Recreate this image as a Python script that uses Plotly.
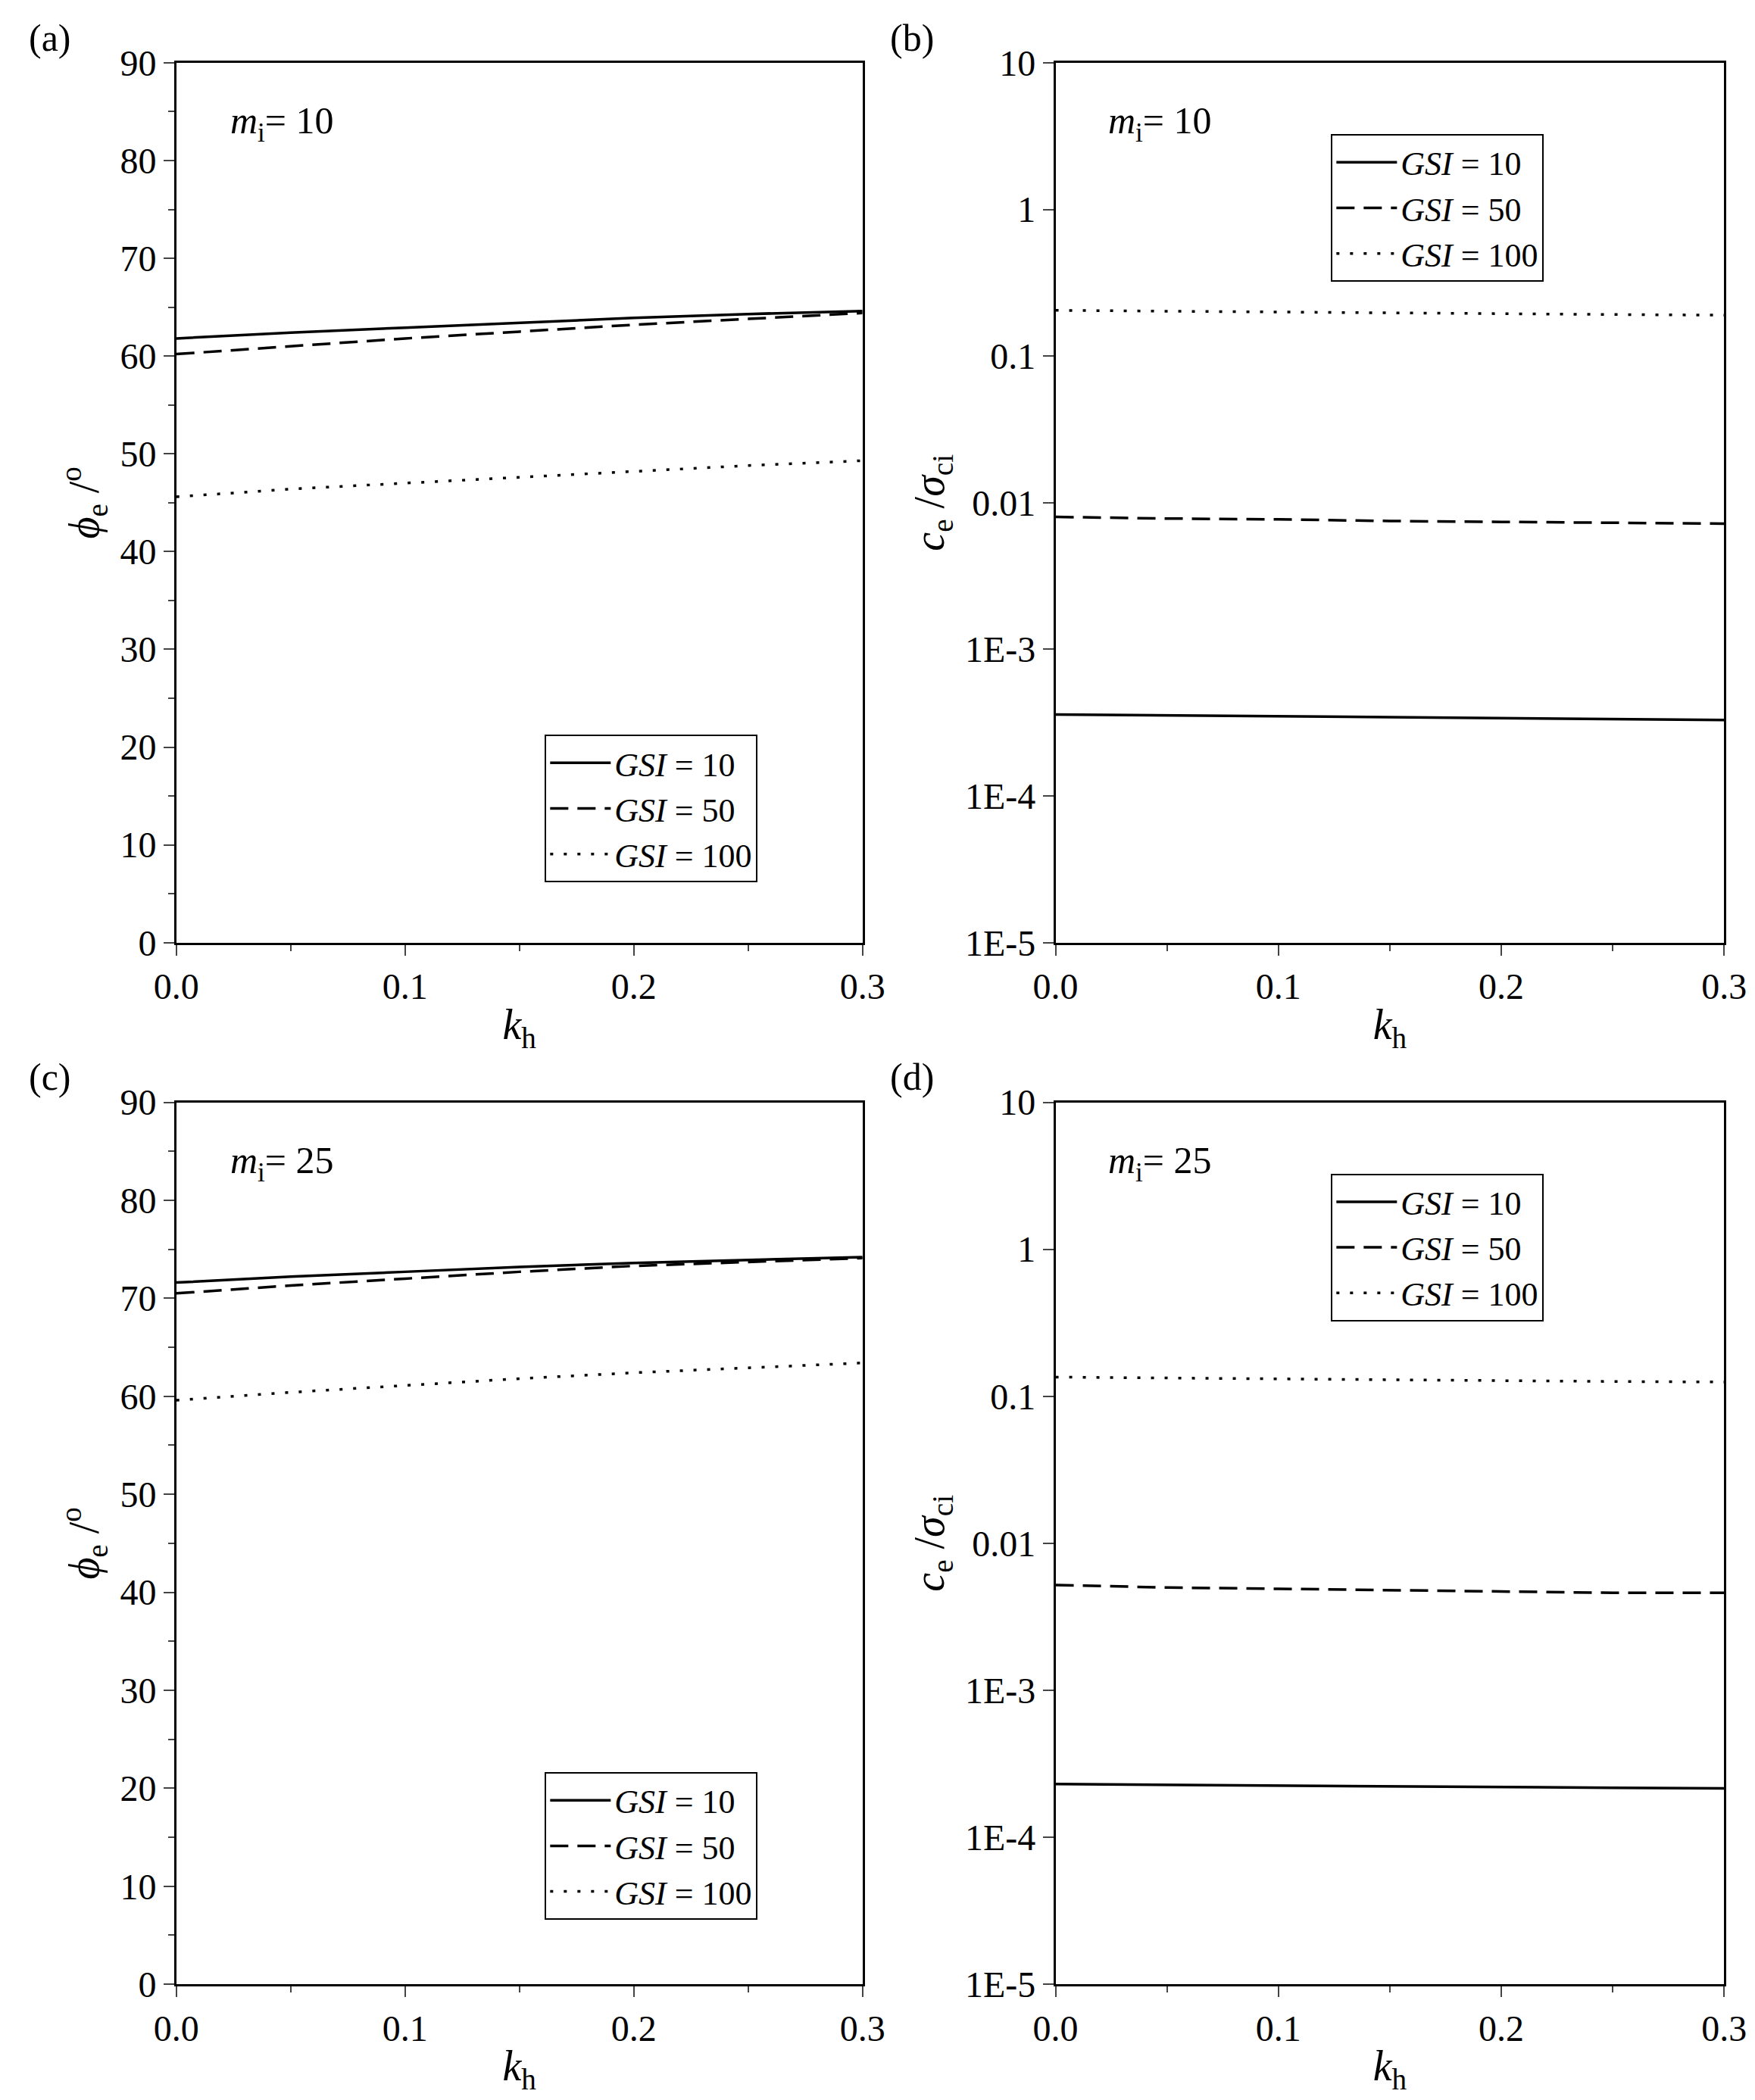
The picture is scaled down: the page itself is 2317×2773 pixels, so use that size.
import plotly.graph_objects as go

kh = [0.0, 0.05, 0.10, 0.15, 0.20, 0.25, 0.30]
gsi_labels = ["<i>GSI</i> = 10", "<i>GSI</i> = 50", "<i>GSI</i> = 100"]
dashes = ["solid", "24px,12px", "4px,14px"]

phi_m10 = [[61.8, 62.4, 62.9, 63.4, 63.9, 64.3, 64.6],
           [60.2, 61.0, 61.8, 62.5, 63.2, 63.8, 64.4],
           [45.6, 46.4, 47.0, 47.6, 48.2, 48.8, 49.3]]
c_m10 = [[3.6e-4, 3.55e-4, 3.5e-4, 3.45e-4, 3.4e-4, 3.35e-4, 3.3e-4],
         [0.0080, 0.0078, 0.0077, 0.0075, 0.0074, 0.0073, 0.0072],
         [0.205, 0.202, 0.199, 0.197, 0.195, 0.192, 0.190]]
phi_m25 = [[71.6, 72.2, 72.7, 73.2, 73.6, 73.9, 74.2],
           [70.5, 71.3, 72.0, 72.7, 73.3, 73.7, 74.1],
           [59.6, 60.4, 61.1, 61.8, 62.4, 62.9, 63.4]]
c_m25 = [[2.3e-4, 2.27e-4, 2.24e-4, 2.21e-4, 2.19e-4, 2.17e-4, 2.15e-4],
         [0.0052, 0.0050, 0.0049, 0.0048, 0.0047, 0.0046, 0.0046],
         [0.135, 0.133, 0.131, 0.129, 0.128, 0.126, 0.125]]

log_vals = [1e-5, 1e-4, 1e-3, 0.01, 0.1, 1, 10]
log_text = ["1E-5", "1E-4", "1E-3", "0.01", "0.1", "1", "10"]

F = "Liberation Serif"
fig = go.Figure()

panels = [
    (phi_m10, "x", "y", "legend"),
    (c_m10, "x2", "y2", "legend2"),
    (phi_m25, "x3", "y3", "legend3"),
    (c_m25, "x4", "y4", "legend4"),
]
for data, xa, ya, lg in panels:
    for i in range(3):
        fig.add_trace(go.Scatter(x=kh, y=data[i], mode="lines", name=gsi_labels[i],
                                 xaxis=xa, yaxis=ya, legend=lg,
                                 line=dict(color="black", width=3.5, dash=dashes[i])))

xdoms = [[0.097, 0.488], [0.598, 0.979]]
ydoms = [[0.554, 0.973], [0.058, 0.478]]
TF = dict(size=48, family=F, color="black")

def xax(dom, anchor):
    return dict(domain=dom, anchor=anchor, range=[0, 0.3], tickvals=[0, 0.1, 0.2, 0.3],
                ticktext=["0.0", "0.1", "0.2", "0.3"], ticks="outside", ticklen=14, tickwidth=2,
                minor=dict(ticks="outside", ticklen=8, dtick=0.05, tickwidth=2),
                showline=True, linewidth=2.5, linecolor="black", mirror=True, showgrid=False,
                zeroline=False, tickfont=TF, automargin=False,
                title=dict(text="<i>k</i><sub>h</sub>", font=dict(size=56, family=F, color="black"), standoff=5))

def yphi(dom, anchor):
    return dict(domain=dom, anchor=anchor, range=[0, 90], dtick=10, ticks="outside", ticklen=14, tickwidth=2,
                minor=dict(ticks="outside", ticklen=8, dtick=5, tickwidth=2),
                showline=True, linewidth=2.5, linecolor="black", mirror=True, showgrid=False, zeroline=False,
                tickfont=TF, automargin=False,
                title=dict(text="<i>ϕ</i><sub>e</sub> /<sup>o</sup>", font=dict(size=56, family=F, color="black"), standoff=10))

def ylog(dom, anchor):
    return dict(domain=dom, anchor=anchor, type="log", range=[-5, 1], tickvals=log_vals, ticktext=log_text,
                ticks="outside", ticklen=14, tickwidth=2,
                showline=True, linewidth=2.5, linecolor="black", mirror=True, showgrid=False, zeroline=False,
                tickfont=TF, automargin=False,
                title=dict(text="<i>c</i><sub>e</sub> /<i>σ</i><sub>ci</sub>", font=dict(size=56, family=F, color="black"), standoff=10))

def leg(x, y):
    return dict(x=x, y=y, xanchor="left", yanchor="top", bgcolor="white", bordercolor="black", borderwidth=2,
                font=dict(size=44, family=F, color="black"), itemwidth=80, tracegroupgap=0)

fig.update_layout(
    width=2317, height=2773, margin=dict(l=0, r=0, t=0, b=0),
    paper_bgcolor="white", plot_bgcolor="white", showlegend=True,
    xaxis=xax(xdoms[0], "y"), yaxis=yphi(ydoms[0], "x"),
    xaxis2=xax(xdoms[1], "y2"), yaxis2=ylog(ydoms[0], "x2"),
    xaxis3=xax(xdoms[0], "y3"), yaxis3=yphi(ydoms[1], "x3"),
    xaxis4=xax(xdoms[1], "y4"), yaxis4=ylog(ydoms[1], "x4"),
    legend=leg(0.307, 0.653), legend2=leg(0.755, 0.939),
    legend3=leg(0.307, 0.159), legend4=leg(0.755, 0.444),
)

labels = [("(a)", 0.012, 0.985), ("(b)", 0.503, 0.985), ("(c)", 0.012, 0.49), ("(d)", 0.503, 0.49)]
for t, x, y in labels:
    fig.add_annotation(text=t, x=x, y=y, xref="paper", yref="paper", showarrow=False,
                       xanchor="left", yanchor="middle", font=dict(size=50, family=F, color="black"))
mis = [("<i>m</i><sub>i</sub>= 10", 0.127, 0.944), ("<i>m</i><sub>i</sub>= 10", 0.627, 0.944),
       ("<i>m</i><sub>i</sub>= 25", 0.127, 0.449), ("<i>m</i><sub>i</sub>= 25", 0.627, 0.449)]
for t, x, y in mis:
    fig.add_annotation(text=t, x=x, y=y, xref="paper", yref="paper", showarrow=False,
                       xanchor="left", yanchor="middle", font=dict(size=50, family=F, color="black"))

fig.write_html("out.html")
